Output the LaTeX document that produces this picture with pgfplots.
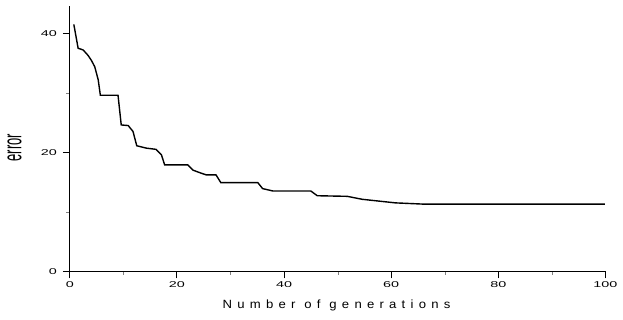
\documentclass[border=0pt]{standalone}
\usepackage{pgfplots}
\pgfplotsset{compat=1.18}
\usepackage{fontspec}
\setmainfont{Liberation Sans}
\begin{document}
\begin{tikzpicture}
\path (0,0) rectangle (623bp,320bp);
\begin{axis}[
  at={(70bp,48bp)}, anchor=south west,
  scale only axis, width=537bp, height=266bp,
  xmin=0, xmax=100, ymin=0, ymax=44.6,
  axis lines*=left,
  axis line style={line width=1.3bp},
  xtick={0,20,40,60,80,100}, ytick={0,20,40},
  xticklabels={0,20,40,60,80,100},
  yticklabels={0,20,40},
  minor x tick num=1, minor y tick num=1,
  tick align=outside,
  major tick length=7bp, minor tick length=3.5bp,
  major tick style={line width=1.1bp, black},
  ticklabel style={font=\fontsize{8.5}{8.5}\selectfont, xscale=1.7},
  xlabel={\addfontfeature{LetterSpace=40}Number of generations},
  xlabel style={at={(axis description cs:0.498,-0.13)}, anchor=center, xscale=1.1, font=\fontsize{12}{12}\selectfont},
  ylabel={error},
  ylabel style={at={(axis description cs:-0.103,0.466)}, anchor=center, yscale=2, font=\fontsize{13}{13}\selectfont},
]
\addplot[black, line width=1.4bp] coordinates {
(0.75,41.5) (1.55,37.5) (2.5,37.2) (3.4,36.3) (4.0,35.5) (4.65,34.4) (5.3,32.2) (5.7,29.6)
(9.0,29.6) (9.6,24.6) (10.9,24.5) (11.8,23.5) (12.5,21.1) (14.3,20.7) (16.1,20.5) (17.1,19.6)
(17.7,17.9) (22.0,17.9) (23.0,17.0) (24.5,16.5) (25.5,16.2) (27.3,16.2) (28.2,14.9)
(35.1,14.9) (36.0,13.9) (37.9,13.5) (45.0,13.5) (46.2,12.7) (51.8,12.6) (54.6,12.1)
(57.7,11.8) (60.8,11.5) (65.8,11.3) (99.9,11.3)
};
\end{axis}
\end{tikzpicture}
\end{document}
